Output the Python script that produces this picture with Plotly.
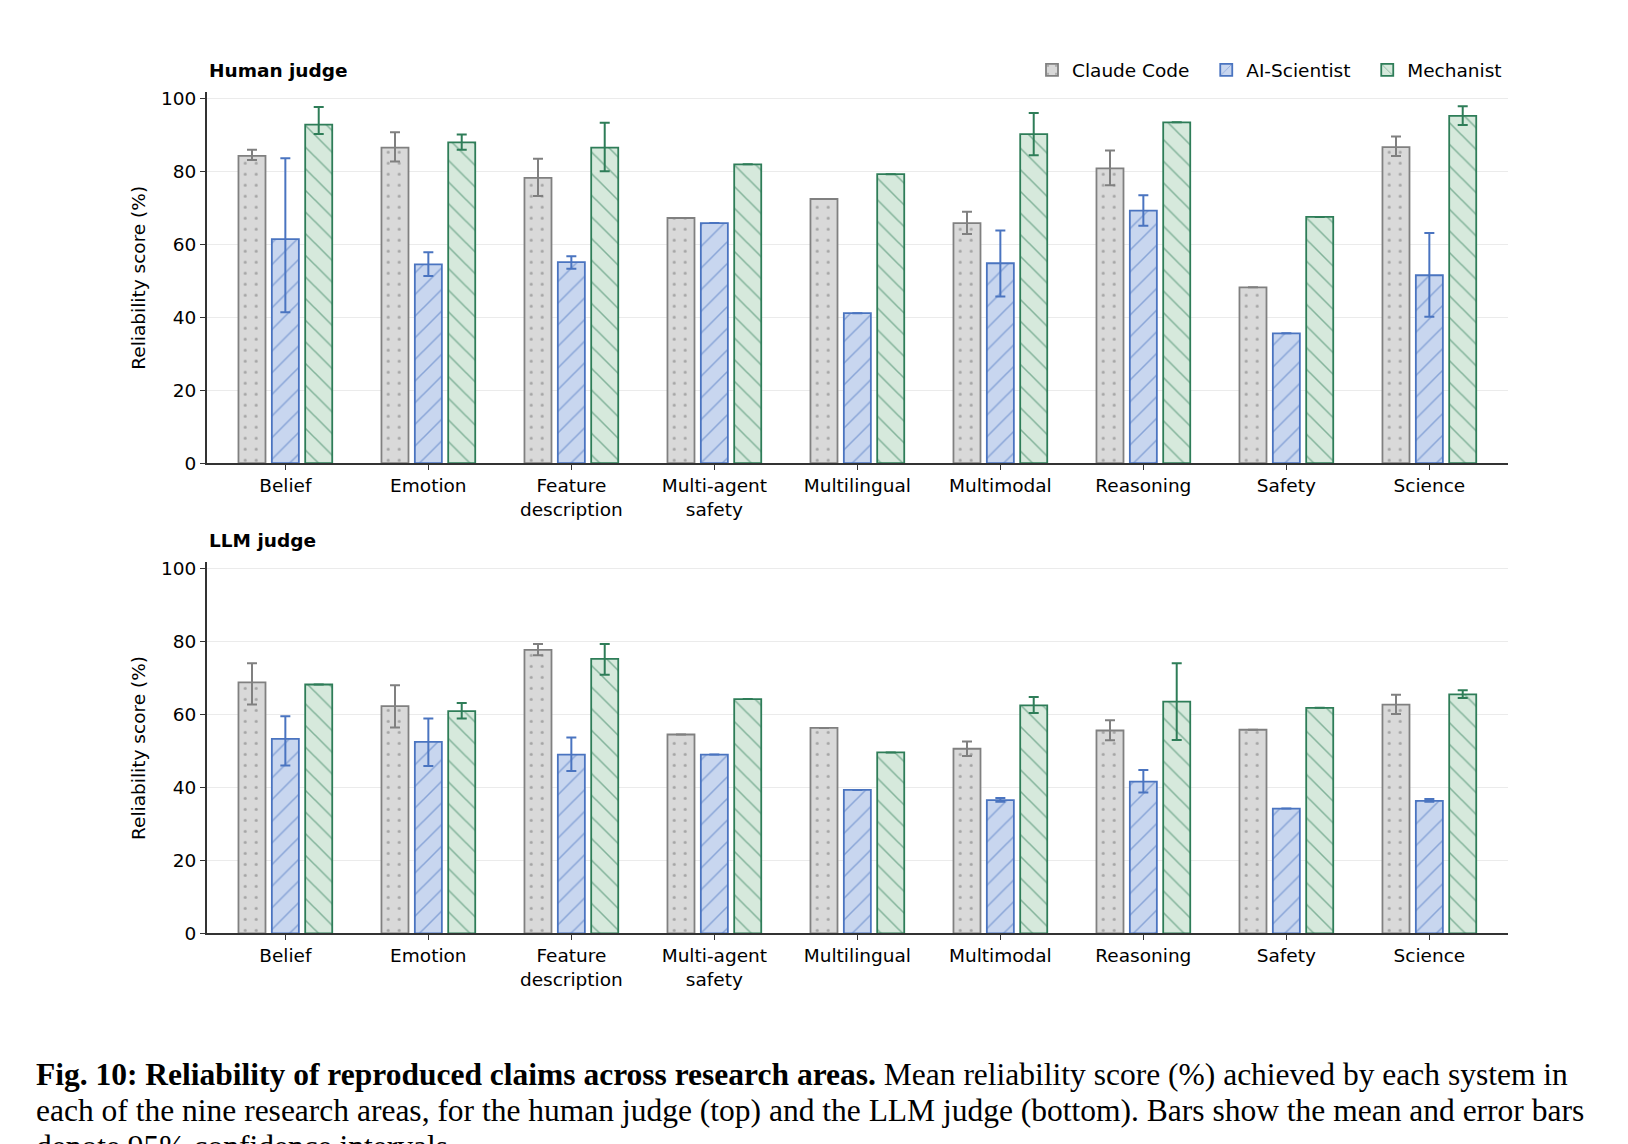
import plotly.graph_objects as go
from plotly.subplots import make_subplots

areas = ["Belief", "Emotion", "Feature<br>description", "Multi-agent<br>safety",
         "Multilingual", "Multimodal", "Reasoning", "Safety", "Science"]
systems = ["Claude Code", "AI-Scientist", "Mechanist"]

# human judge: mean and 95% CI bounds per area
human_claude = [84.2, 86.5, 78.2, 67.2, 72.4, 65.8, 80.8, 48.2, 86.6]
human_claude_lo = [83.1, 82.7, 73.2, 67.2, 72.4, 62.8, 76.2, 48.2, 84.2]
human_claude_hi = [85.9, 90.7, 83.4, 67.2, 72.4, 68.9, 85.7, 48.2, 89.5]
human_ais = [61.4, 54.5, 55.1, 65.8, 41.1, 54.8, 69.2, 35.6, 51.5]
human_ais_lo = [41.4, 51.3, 53.3, 65.8, 41.1, 45.7, 65.1, 35.6, 40.1]
human_ais_hi = [83.6, 57.8, 56.7, 65.8, 41.1, 63.8, 73.4, 35.6, 63.1]
human_mech = [92.8, 87.9, 86.5, 81.9, 79.2, 90.2, 93.4, 67.5, 95.2]
human_mech_lo = [90.2, 85.9, 80.0, 81.9, 79.2, 84.4, 93.4, 67.5, 92.7]
human_mech_hi = [97.6, 90.1, 93.3, 81.9, 79.2, 96.0, 93.4, 67.5, 97.8]

# LLM judge
llm_claude = [68.8, 62.3, 77.7, 54.5, 56.3, 50.6, 55.6, 55.8, 62.7]
llm_claude_lo = [62.7, 56.4, 76.2, 54.5, 56.3, 48.6, 52.9, 55.8, 60.1]
llm_claude_hi = [74.0, 68.0, 79.3, 54.5, 56.3, 52.6, 58.4, 55.8, 65.4]
llm_ais = [53.3, 52.5, 49.0, 49.0, 39.3, 36.5, 41.6, 34.2, 36.3]
llm_ais_lo = [46.0, 45.9, 44.5, 49.0, 39.3, 36.1, 38.6, 34.2, 36.1]
llm_ais_hi = [59.5, 58.9, 53.7, 49.0, 39.3, 37.1, 44.8, 34.2, 36.8]
llm_mech = [68.2, 60.9, 75.2, 64.2, 49.6, 62.5, 63.5, 61.8, 65.5]
llm_mech_lo = [68.2, 58.9, 70.9, 64.2, 49.6, 60.4, 53.0, 61.8, 64.5]
llm_mech_hi = [68.2, 63.1, 79.3, 64.2, 49.6, 64.8, 74.0, 61.8, 66.6]

edge = {"Claude Code": "#808080", "AI-Scientist": "#4a74c0", "Mechanist": "#2e7d58"}
fill = {"Claude Code": "#d9d9d9", "AI-Scientist": "#c8d6ef", "Mechanist": "#d6e9dc"}
dotc = {"Claude Code": "#6f6f6f", "AI-Scientist": "#4a74c0", "Mechanist": "#2e7d58"}
hatch = {"Claude Code": ".", "AI-Scientist": "/", "Mechanist": "\\"}
hsize = {"Claude Code": 11, "AI-Scientist": 15.3, "Mechanist": 15.3}
hsolid = {"Claude Code": 0.06, "AI-Scientist": 0.1, "Mechanist": 0.1}

W, H = 1628, 1144
OFF = 8  # page body margin pushes the figure 8px right and down
FONT = "DejaVu Sans"


def px(x):
    return (x - OFF) / W


def py(y):
    return 1 - (y - OFF) / H


fig = make_subplots(rows=2, cols=1)

panels = [
    (1, [(human_claude, human_claude_lo, human_claude_hi),
         (human_ais, human_ais_lo, human_ais_hi),
         (human_mech, human_mech_lo, human_mech_hi)]),
    (2, [(llm_claude, llm_claude_lo, llm_claude_hi),
         (llm_ais, llm_ais_lo, llm_ais_hi),
         (llm_mech, llm_mech_lo, llm_mech_hi)]),
]

for row, series in panels:
    for name, (mean, lo, hi) in zip(systems, series):
        fig.add_trace(go.Bar(
            x=areas, y=mean, name=name + "\u00a0\u00a0", showlegend=(row == 1),
            marker=dict(color=fill[name],
                        line=dict(color=edge[name], width=1.8),
                        pattern=dict(shape=hatch[name], fgcolor=dotc[name],
                                     bgcolor=fill[name], size=hsize[name],
                                     solidity=hsolid[name], fillmode="overlay")),
            error_y=dict(type="data", symmetric=False,
                         array=[h - m for h, m in zip(hi, mean)],
                         arrayminus=[m - l for m, l in zip(mean, lo)],
                         color=edge[name], thickness=2, width=5),
        ), row=row, col=1)

xdom = [px(206.7), px(1508)]
ydoms = {1: [py(464.8), py(88.7)], 2: [py(940.8), py(564.7)]}

axis_common = dict(showline=True, linecolor="#333333", linewidth=1.5,
                   ticks="outside", ticklen=5, tickwidth=1.2, tickcolor="#333333",
                   tickfont=dict(family=FONT, size=18.5, color="black"))

for row in (1, 2):
    fig.update_xaxes(domain=xdom, range=[-0.55, 8.55], showgrid=False,
                     **axis_common, row=row, col=1)
    fig.update_yaxes(domain=ydoms[row], range=[0, 101.8], tickvals=[0, 20, 40, 60, 80, 100],
                     showgrid=True, gridcolor="#ebebeb", gridwidth=1, zeroline=False,
                     **axis_common, row=row, col=1)

ann = []
for row, label, ty in ((1, "Human judge", 67), (2, "LLM judge", 543)):
    ann.append(dict(text="<b>" + label + "</b>", x=xdom[0], y=py(ty),
                    xref="paper", yref="paper", xanchor="left", yanchor="middle",
                    showarrow=False, font=dict(family=FONT, size=18.5, color="black")))
    ann.append(dict(text="Reliability score (%)", x=px(138.3),
                    y=(ydoms[row][0] + ydoms[row][1]) / 2, textangle=-90,
                    xref="paper", yref="paper", xanchor="center", yanchor="middle",
                    showarrow=False, font=dict(family=FONT, size=18.5, color="black")))

caption = [
    "<b>Fig. 10: Reliability of reproduced claims across research areas.</b> "
    "Mean reliability score (%) achieved by each system in",
    "each of the nine research areas, for the human judge (top) and the LLM judge "
    "(bottom). Bars show the mean and error bars",
    "denote 95% confidence intervals.",
]
cap_y = [1084, 1120, 1157]
for line, yy in zip(caption, cap_y):
    ann.append(dict(text=line, x=px(34), y=py(yy), xref="paper", yref="paper",
                    xanchor="left", yanchor="middle", showarrow=False,
                    font=dict(family="Liberation Serif", size=31.5, color="black")))

fig.update_layout(
    width=W, height=H,
    margin=dict(l=0, r=0, t=0, b=0),
    paper_bgcolor="white", plot_bgcolor="white",
    barmode="group", bargap=0.3, bargroupgap=0.19,
    font=dict(family=FONT, size=18.5, color="black"),
    legend=dict(orientation="h", x=px(1519), xanchor="right", y=py(67), yanchor="middle",
                font=dict(family=FONT, size=18.5, color="black"),
                bgcolor="rgba(0,0,0,0)", traceorder="normal"),
    annotations=ann,
)

fig.write_html("out.html")
